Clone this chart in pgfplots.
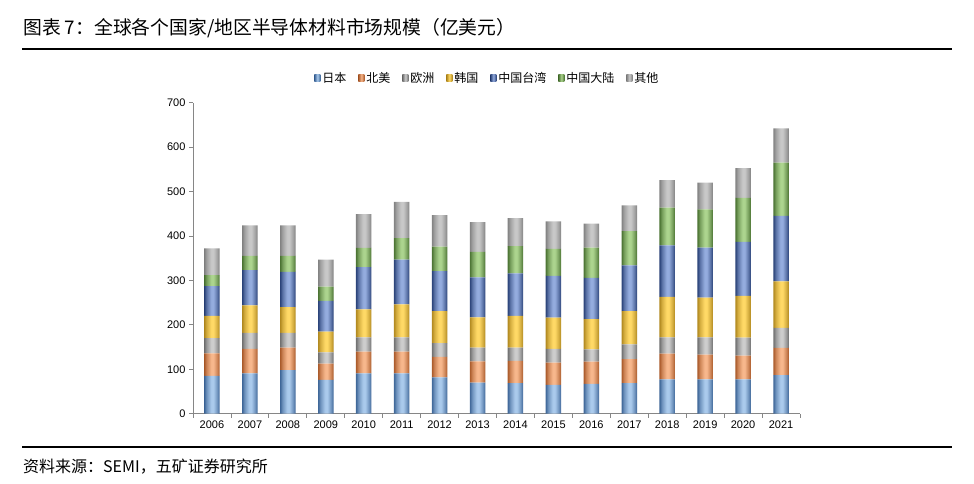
\documentclass[border=0pt]{standalone}
\usepackage{pgfplots}
\pgfplotsset{compat=1.18}
\usepackage{pgfplotstable}
\usepackage{fontspec}
\setmainfont{Liberation Sans}
\newfontfamily\cjk{Noto Sans CJK SC}

\definecolor{axisgray}{RGB}{134,134,134}
\definecolor{JPm}{RGB}{170,202,236}
\definecolor{JPe}{RGB}{60,100,150}
\definecolor{NAm}{RGB}{247,183,140}
\definecolor{NAe}{RGB}{168,88,40}
\definecolor{EUm}{RGB}{205,205,205}
\definecolor{EUe}{RGB}{110,110,110}
\definecolor{KRm}{RGB}{255,217,102}
\definecolor{KRe}{RGB}{175,135,30}
\definecolor{TWm}{RGB}{148,172,222}
\definecolor{TWe}{RGB}{40,64,118}
\definecolor{CNm}{RGB}{172,212,142}
\definecolor{CNe}{RGB}{72,112,48}
\definecolor{OTm}{RGB}{200,200,200}
\definecolor{OTe}{RGB}{128,128,128}

% periodic horizontal shading: one cylinder-like gradient per bar
% (the path's bounding box spans 25bp..75bp of the 100bp shading)
\newcommand\buildshade[3]{%
  \gdef\shspec{color(0bp)=(#3)}%
  \foreach \k in {0,...,15}{%
    \pgfmathsetmacro\pa{25+3.24495*\k}%
    \pgfmathsetmacro\pb{\pa+0.19887}%
    \pgfmathsetmacro\pc{\pa+0.59660}%
    \pgfmathsetmacro\pd{\pa+0.79547}%
    \pgfmathsetmacro\pe{\pa+1.12691}%
    \pgfmathsetmacro\pf{\pa+1.32578}%
    \xdef\shspec{\shspec; color(\pa bp)=(#3); color(\pb bp)=(#3!55!#2); color(\pc bp)=(#2); color(\pd bp)=(#2); color(\pe bp)=(#3!55!#2); color(\pf bp)=(#3)}%
  }%
  \xdef\shspec{\shspec; color(100bp)=(#3)}%
  \edef\tmp{\noexpand\pgfdeclarehorizontalshading{#1}{100bp}{\shspec}}\tmp
}
\buildshade{jpshade}{JPm}{JPe}
\buildshade{nashade}{NAm}{NAe}
\buildshade{eushade}{EUm}{EUe}
\buildshade{krshade}{KRm}{KRe}
\buildshade{twshade}{TWm}{TWe}
\buildshade{cnshade}{CNm}{CNe}
\buildshade{otshade}{OTm}{OTe}

\pgfplotstableread{
x jp na eu kr tw cn ot
0 85 51 34 50 67 25 60
1 91 55 36 62 79 32 69
2 98 51 33 58 79 36 69
3 76 37 25 47 69 32 61
4 91 49 32 63 95 43 76
5 91 49 32 74 101 48 82
6 82 46 31 72 90 55 71
7 70 48 31 68 90 57 67
8 69 50 30 71 96 61 63
9 65 50 31 70 94 61 62
10 67 50 28 68 93 68 54
11 69 54 33 75 103 77 58
12 77 58 37 91 116 85 62
13 77 56 39 89 113 86 60
14 77 54 40 94 122 99 67
15 87 61 45 105 147 120 77
}\data

\pgfplotsset{
  shadebar/.style n args={3}{draw=none, shading=#1,
    legend image code/.code={\path[draw=none, left color=#3, right color=#3, middle color=#2] (0pt,-3.5pt) rectangle (6pt,3.5pt);}},
}

\begin{document}
\begin{tikzpicture}
\node[anchor=west, inner sep=0pt] at (23pt,455pt) {\cjk\fontsize{18.8}{20}\selectfont 图表 7：全球各个国家/地区半导体材料市场规模（亿美元）};
\draw[line width=2pt] (22pt,433.5pt) -- (952pt,433.5pt);
\draw[line width=2pt] (22pt,35.7pt) -- (952pt,35.7pt);
\node[anchor=west, inner sep=0pt] at (23pt,16pt) {\cjk\fontsize{16}{18}\selectfont 资料来源：SEMI，五矿证券研究所};
\begin{axis}[
  scale only axis, width=607pt, height=311pt,
  at={(193pt,69.3pt)}, anchor=south west,
  ybar stacked, bar width=15.5pt,
  xmin=-0.5, xmax=15.5, ymin=0, ymax=700,
  xtick={0,...,15},
  xticklabels={2006,2007,2008,2009,2010,2011,2012,2013,2014,2015,2016,2017,2018,2019,2020,2021},
  minor xtick={-0.5,0.5,...,15.5},
  ytick={0,100,...,700},
  axis x line*=bottom, axis y line*=left,
  axis line style={color=axisgray, line width=0.8pt},
  tick align=outside, major tick length=4pt, minor tick length=4pt,
  tick style={color=axisgray, line width=0.8pt},
  major x tick style={draw=none},
  ticklabel style={font=\fontsize{11}{13}\selectfont},
  /pgf/number format/assume math mode=true,
  legend columns=7,
  legend style={draw=none, fill=none, at={(0.485,1.08)}, anchor=center,
    font=\cjk\fontsize{12}{14}\selectfont,
    /tikz/every even column/.append style={column sep=10pt}},
]
\addplot[shadebar={jpshade}{JPm}{JPe}] table[x=x,y=jp]{\data};
\addplot[shadebar={nashade}{NAm}{NAe}] table[x=x,y=na]{\data};
\addplot[shadebar={eushade}{EUm}{EUe}] table[x=x,y=eu]{\data};
\addplot[shadebar={krshade}{KRm}{KRe}] table[x=x,y=kr]{\data};
\addplot[shadebar={twshade}{TWm}{TWe}] table[x=x,y=tw]{\data};
\addplot[shadebar={cnshade}{CNm}{CNe}] table[x=x,y=cn]{\data};
\addplot[shadebar={otshade}{OTm}{OTe}] table[x=x,y=ot]{\data};
\legend{日本,北美,欧洲,韩国,中国台湾,中国大陆,其他}
\end{axis}
\pgfresetboundingbox
\path[use as bounding box] (0,0) rectangle (974pt,483pt);
\end{tikzpicture}
\end{document}
